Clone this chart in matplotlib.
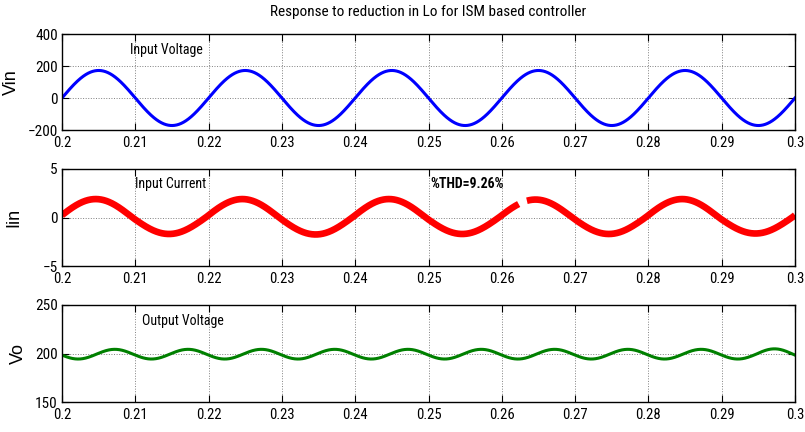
import numpy as np
import matplotlib
matplotlib.use("Agg")
import matplotlib.pyplot as plt

plt.rcParams['font.family'] = ['Roboto Condensed', 'Liberation Sans Narrow', 'Liberation Sans', 'DejaVu Sans']

# time window and line frequency
t_start, t_end = 0.2, 0.3
half_period = 0.01          # 50 Hz line -> 10 ms half cycles
ripple_half = 0.005         # 100 Hz ripple on output

# input voltage: peak of each half cycle (V)
vin_peaks = [172, -172, 172, -172, 172, -172, 172, -172, 172, -172]

# input current: peak of each half cycle (A), lead in seconds, missing span
iin_peaks = [1.9, -1.7, 1.9, -1.75, 1.9, -1.7, 1.85, -1.7, 1.9, -1.65]
iin_lead = 0.0004
iin_gap = [0.2623, 0.2634]

# output voltage: mean and ripple extremes of each half ripple cycle (V)
vo_mean = 199.3
vo_first = 0.1997
vo_ext = [-5.0, -5.0, 5.0, -5.0, 5.0, -5.0, 5.0, -5.0, 5.0, -5.0, 5.0,
          -5.0, 5.0, -5.0, 5.0, -5.0, 5.0, -5.0, 5.0, -5.0, 5.5, -5.0]

x_ticks = [0.2, 0.21, 0.22, 0.23, 0.24, 0.25, 0.26, 0.27, 0.28, 0.29, 0.3]
x_labels = ['0.2', '0.21', '0.22', '0.23', '0.24', '0.25', '0.26', '0.27', '0.28', '0.29', '0.3']


def half_waves(t, t0, width, peaks):
    out = np.zeros_like(t)
    for k, p in enumerate(peaks):
        a = t0 + k * width
        m = (t >= a) & (t <= a + width)
        out[m] = p * np.sin(np.pi * (t[m] - a) / width)
    return out


t = np.linspace(t_start, t_end, 4001)
vin = half_waves(t, t_start, half_period, vin_peaks)
iin = half_waves(t, t_start - iin_lead, half_period, iin_peaks + [iin_peaks[0]])
vo = vo_mean + half_waves(t, vo_first - ripple_half, ripple_half, vo_ext)

fig = plt.figure(figsize=(8.05, 4.32), dpi=100)
W, H = 805, 432
left, right = 62, 795
boxes = [(34, 130), (169, 266), (305, 402)]
axes = [fig.add_axes([left / W, 1 - b / H, (right - left) / W, (b - tp) / H]) for tp, b in boxes]

for ax in axes:
    ax.set_xlim(t_start, t_end)
    ax.set_xticks(x_ticks)
    ax.set_xticklabels(x_labels)
    ax.tick_params(direction='in', top=True, right=True, length=5, width=0.8,
                   labelsize=11, pad=3)
    ax.tick_params(axis='x', labelsize=10.5, pad=4.5)
    ax.grid(True, linestyle=':', color='black', linewidth=0.7, alpha=0.5)
    for s in ax.spines.values():
        s.set_linewidth(1.0)

ax1, ax2, ax3 = axes
lab_font = ['Liberation Sans', 'DejaVu Sans']

ax1.plot(t, vin, color='#0000ff', lw=2.2)
ax1.set_ylim(-200, 400)
ax1.set_yticks([-200, 0, 200, 400])
ax1.set_ylabel('Vin', fontsize=13, family=lab_font)
ax1.yaxis.set_label_coords((20 - left) / (right - left), 0.5)
ax1.text(0.2093, 301, 'Input Voltage', fontsize=10, va='center')

m1 = t <= iin_gap[0]
m2 = t >= iin_gap[1]
ax2.plot(t[m1], iin[m1], color='#ff0000', lw=4.8, solid_capstyle='butt')
ax2.plot(t[m2], iin[m2], color='#ff0000', lw=4.8, solid_capstyle='butt')
ax2.set_ylim(-5, 5)
ax2.set_yticks([-5, 0, 5])
ax2.set_ylabel('Iin', fontsize=13, family=lab_font)
ax2.yaxis.set_label_coords((22 - left) / (right - left), 0.5)
ax2.text(0.2100, 3.45, 'Input Current', fontsize=10, va='center')
ax2.text(0.2502, 3.45, '%THD=9.26%', fontsize=10, va='center', fontweight='bold')

ax3.plot(t, vo, color='#008000', lw=2.2)
ax3.set_ylim(150, 250)
ax3.set_yticks([150, 200, 250])
ax3.set_ylabel('Vo', fontsize=13, family=lab_font)
ax3.yaxis.set_label_coords((27 - left) / (right - left), 0.5)
ax3.text(0.2109, 233.5, 'Output Voltage', fontsize=10, va='center')

fig.text((left + right) / 2 / W, 1 - 12 / H, 'Response to reduction in Lo for ISM based controller',
         ha='center', va='center', fontsize=11)

fig.savefig('out.png', dpi=100)
